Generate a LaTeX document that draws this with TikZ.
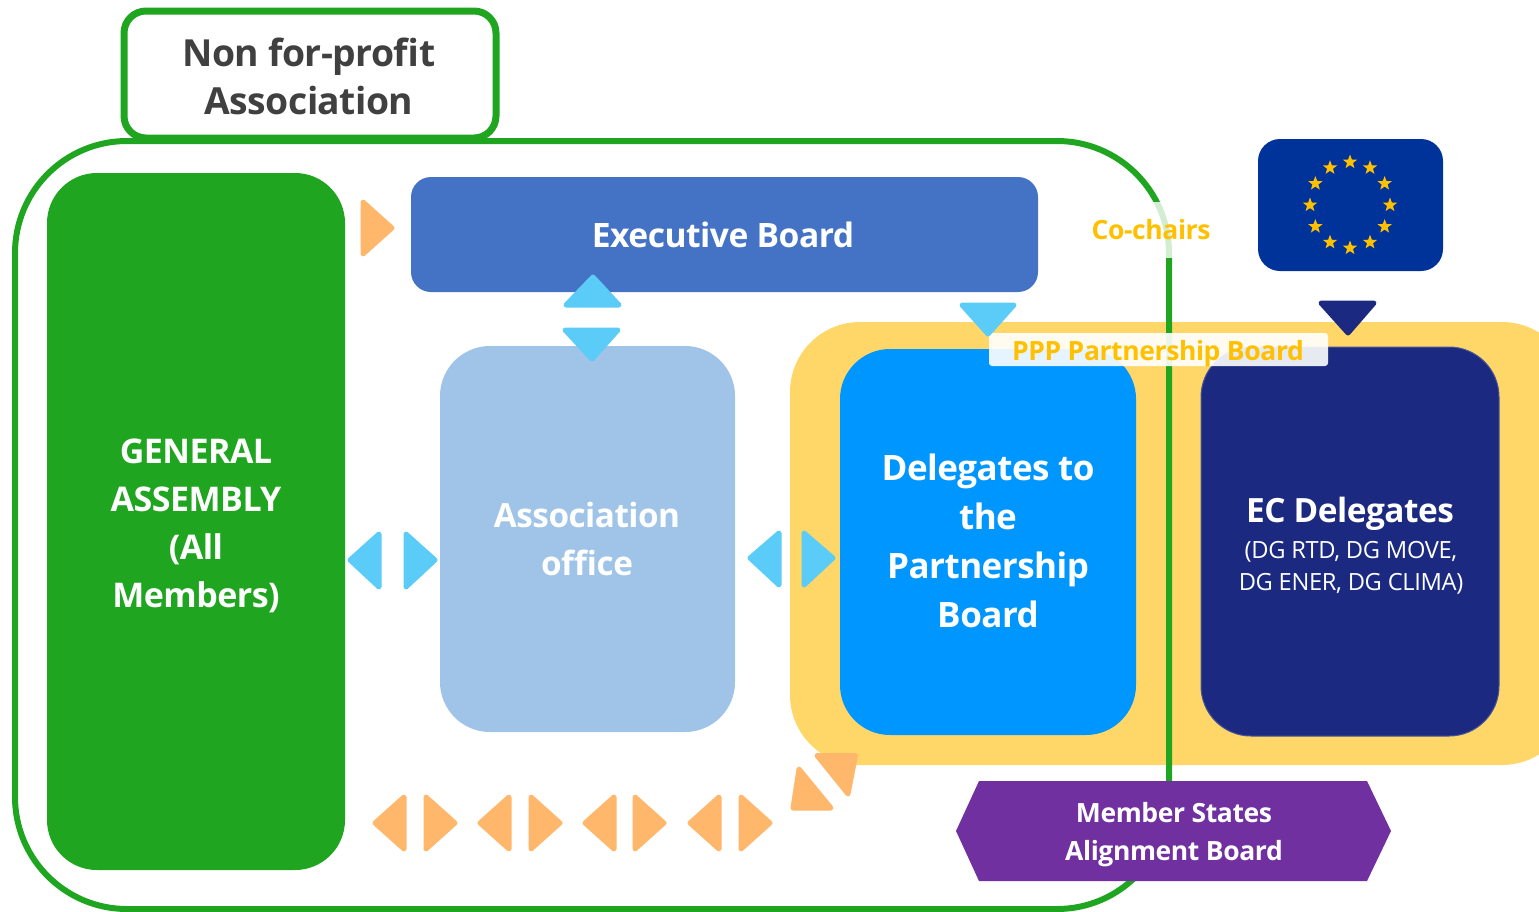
\documentclass[tikz,border=0pt]{standalone}
\usepackage{fontspec}
\setmainfont{Open Sans}[LetterSpace=-1.5]
\usetikzlibrary{shapes.geometric}
\definecolor{frameg}{HTML}{1FA51F}
\definecolor{orangetri}{HTML}{FFB76B}
\definecolor{skytri}{HTML}{5BCBF8}
\definecolor{navyb}{HTML}{1B2A80}
\definecolor{yellowb}{HTML}{FFD768}
\definecolor{goldt}{HTML}{FFC000}
\definecolor{execb}{HTML}{4472C4}
\definecolor{assocb}{HTML}{9FC4E7}
\definecolor{delb}{HTML}{0096FF}
\definecolor{purpleb}{HTML}{7030A0}
\definecolor{flagb}{HTML}{003399}
\definecolor{greyt}{HTML}{404040}
\newcommand{\rtri}[4]{\filldraw[#1,line width=5pt,line join=round] #2 -- #3 -- #4 -- cycle;}
\tikzset{
  x=1pt,y=-1pt,
}
\begin{document}
\begin{tikzpicture}
\useasboundingbox (0,0) rectangle (1539,911);
% yellow band
\begin{scope}
\clip (0,0) rectangle (1539,911);
\fill[yellowb,rounded corners=70pt] (790,322) rectangle (1572,765);
\end{scope}
% outer frame
\draw[frameg,line width=6pt,rounded corners=112pt] (15,141) rectangle (1169,909);
% top box
\draw[frameg,fill=white,line width=7pt,rounded corners=22pt] (124,11) rectangle (496,138);
\node[font=\fontsize{37.3}{48}\selectfont\bfseries,text=greyt,align=center,inner sep=0pt] (npa) at (309,76) {Non for-profit\\Association};
% boxes
\fill[frameg,rounded corners=50pt] (47,173) rectangle (345,870);
\node[font=\fontsize{34}{48}\selectfont\bfseries,text=white,align=center,inner sep=0pt] (ga) at (196,526) {GENERAL\\ASSEMBLY\\(All\\Members)};
\fill[execb,rounded corners=20pt] (411,177) rectangle (1038,292);
\node[font=\fontsize{33.6}{36}\selectfont\bfseries,text=white,inner sep=0pt] (eb) at (723,235) {Executive Board};
\fill[assocb,rounded corners=50pt] (440,346) rectangle (735,732);
\node[font=\fontsize{33.3}{48}\selectfont\bfseries,text=white,align=center,inner sep=0pt] (ao) at (587,539) {Association\\office};
\fill[delb,rounded corners=50pt] (840,349) rectangle (1136,735);
\node[font=\fontsize{35}{49}\selectfont\bfseries,text=white,align=center,inner sep=0pt] (dp) at (988,541) {Delegates to\\the\\Partnership\\Board};
\filldraw[fill=navyb,draw=navyb!80!white,line width=1pt,rounded corners=50pt] (1201,347) rectangle (1499,736);
\node[font=\fontsize{33.4}{36}\selectfont\bfseries,text=white,inner sep=0pt] (ec) at (1350,514) {EC Delegates};
\node[font=\fontsize{23.7}{32}\selectfont,text=white,align=center,inner sep=0pt] (dg) at (1351,568) {(DG RTD, DG MOVE,\\DG ENER, DG CLIMA)};
% labels overlays
\fill[white,fill opacity=.8] (1063,202) rectangle (1235,258);
\node[font=\fontsize{26.5}{30}\selectfont\bfseries,text=goldt,inner sep=0pt] (cc) at (1151,230) {Co-chairs};
\fill[white,fill opacity=.9,rounded corners=3pt] (989,333) rectangle (1328,366);
\node[font=\fontsize{26.5}{30}\selectfont\bfseries,text=goldt,inner sep=0pt] (ppp) at (1158,354) {PPP Partnership Board};
% member states
\fill[purpleb] (956,831) -- (979,781) -- (1367,781) -- (1391,831) -- (1367,881) -- (979,881) -- cycle;
\node[font=\fontsize{26.5}{38}\selectfont\bfseries,text=white,align=center,inner sep=0pt] (ms) at (1174,835) {Member States\\Alignment Board};
% flag
\fill[flagb,rounded corners=22pt] (1258,139) rectangle (1443,271);
\foreach \i in {1,...,12}{
  \node[star,star points=5,star point ratio=2.4,fill=goldt,inner sep=0pt,minimum size=15pt] (s\i) at ({1350+40*cos(30*\i)},{205+43*sin(30*\i)}) {};
}
% triangles
\rtri{orangetri}{(363,202)}{(392,228)}{(363,254)}
\rtri{skytri}{(593,277)}{(566,305)}{(619,305)}
\rtri{skytri}{(565,330)}{(618,330)}{(592,359)}
\rtri{skytri}{(350,560)}{(379,534)}{(379,587)}
\rtri{skytri}{(435,560)}{(406,534)}{(406,587)}
\rtri{skytri}{(750,558)}{(779,533)}{(779,585)}
\rtri{skytri}{(833,558)}{(804,533)}{(804,585)}
\rtri{skytri}{(962,305)}{(1014,305)}{(988,334)}
\rtri{navyb}{(1321,303)}{(1374,303)}{(1348,333)}
\foreach \a in {372,477,582,687}{
  \rtri{orangetri}{(\a+3,823)}{(\a+32,797)}{(\a+32,849)}
}
\foreach \a in {423,528,632,738}{
  \rtri{orangetri}{(\a+32,823)}{(\a+3,797)}{(\a+3,849)}
}
\rtri{orangetri}{(817,755.5)}{(855.5,755.5)}{(848,794)}
\rtri{orangetri}{(799,769)}{(831,808)}{(793,808)}
\end{tikzpicture}
\end{document}
